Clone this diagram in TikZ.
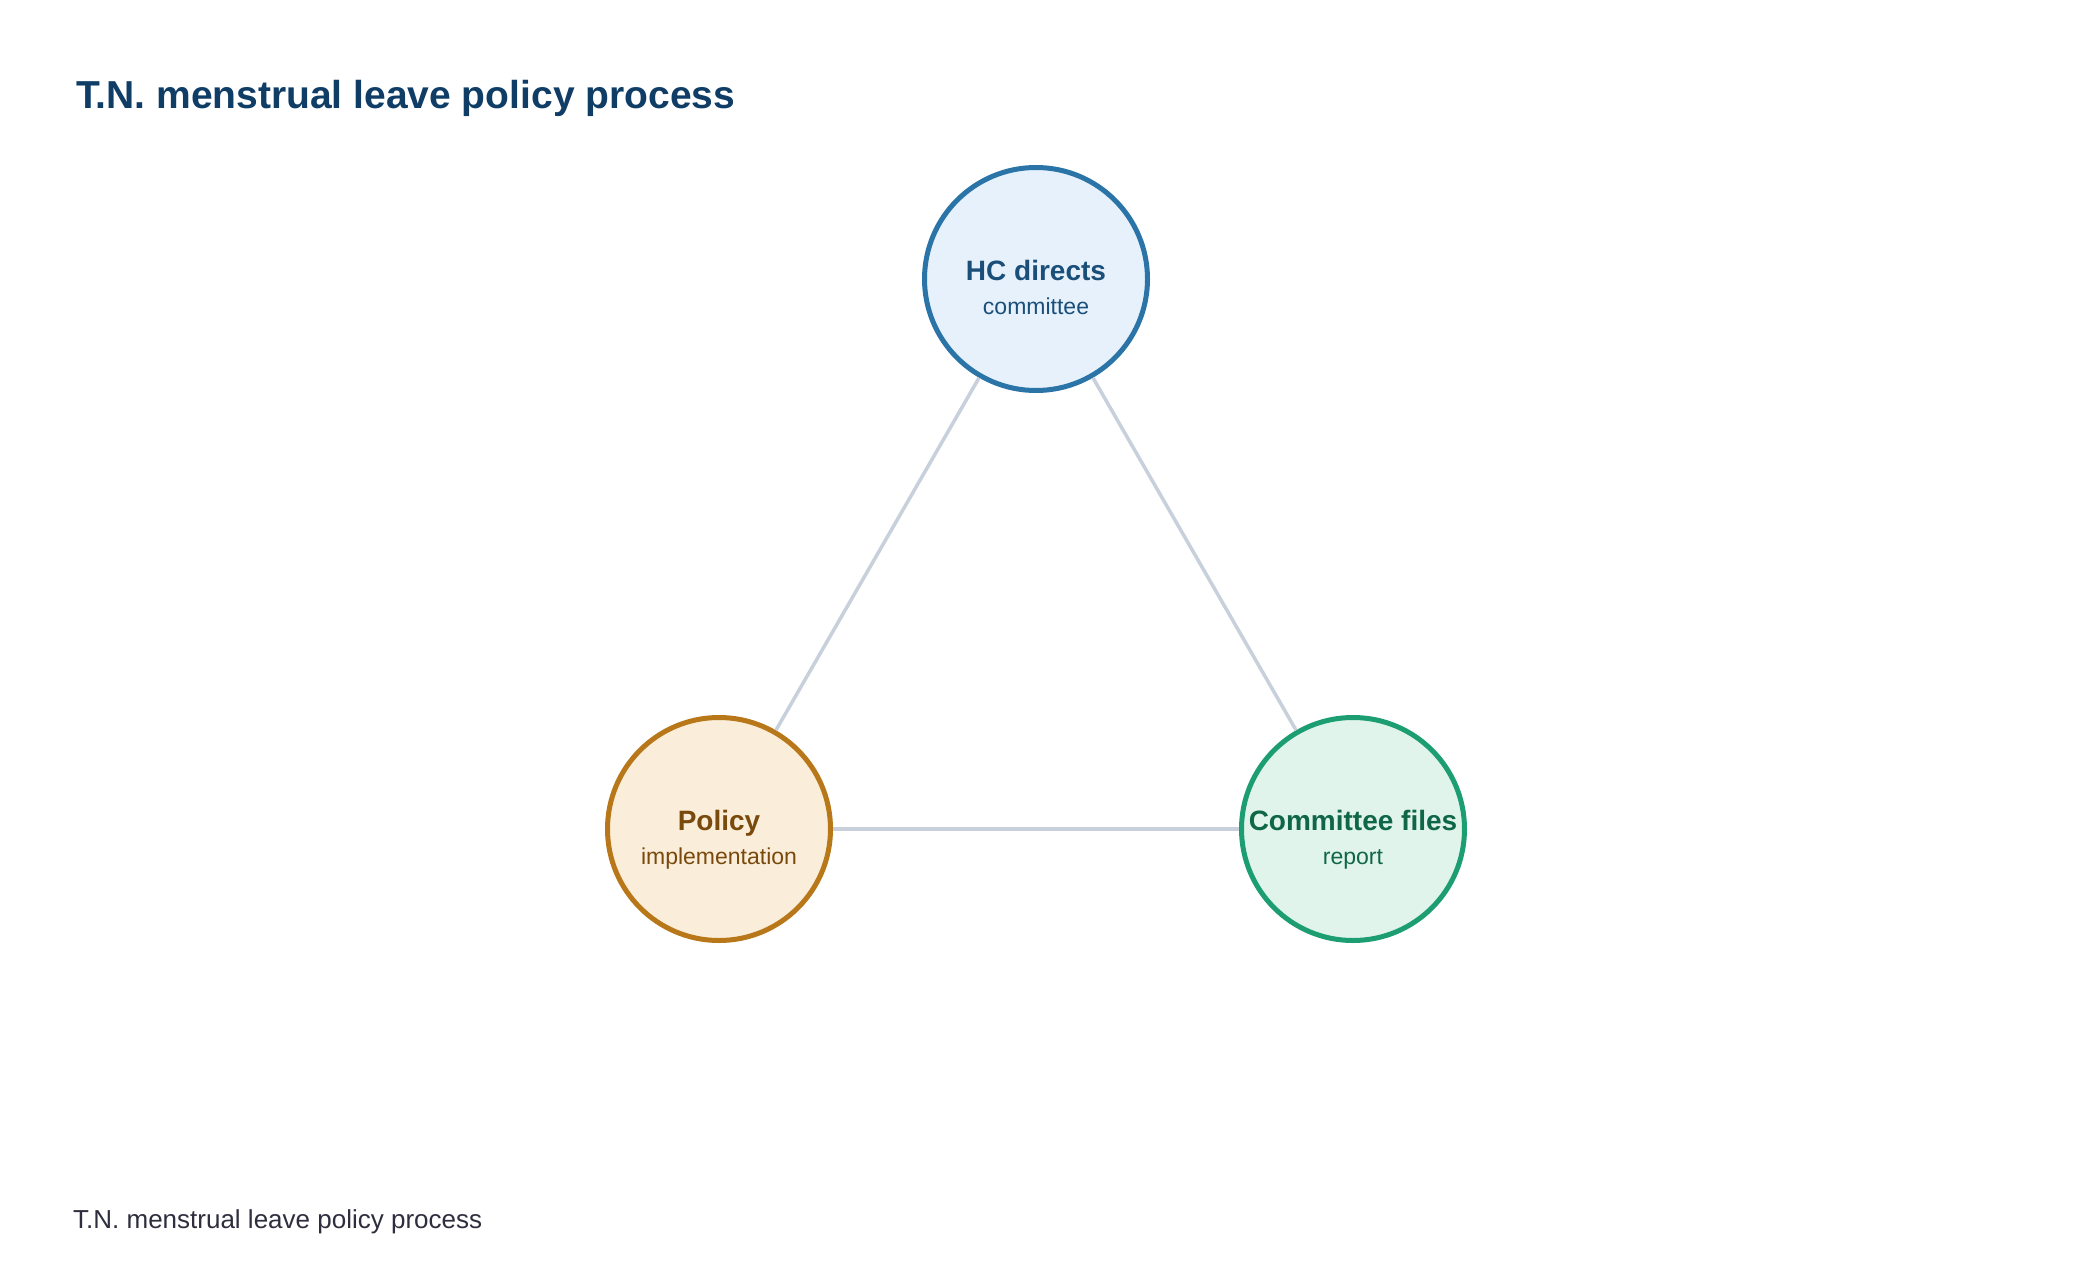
\documentclass[tikz,border=0pt]{standalone}
\usepackage{fontspec}
\setmainfont{Liberation Sans}
\definecolor{titlecol}{HTML}{0F3D66}
\definecolor{footcol}{HTML}{2E2E3E}
\definecolor{edgecol}{HTML}{C8D0DC}
\definecolor{bluefill}{HTML}{E6F1FB}
\definecolor{bluedraw}{HTML}{2A74A8}
\definecolor{bluetext}{HTML}{1A4F7A}
\definecolor{orfill}{HTML}{FAEDDA}
\definecolor{ordraw}{HTML}{B87718}
\definecolor{ortext}{HTML}{7A4A0C}
\definecolor{grfill}{HTML}{E0F4EC}
\definecolor{grdraw}{HTML}{1C9E72}
\definecolor{grtext}{HTML}{0F6648}
\tikzset{
  stage/.style={circle, line width=5pt, minimum size=223pt, inner sep=0pt,
    align=center, text height=70pt, text depth=0pt,
    font=\fontsize{23}{34}\selectfont},
  link/.style={draw=edgecol, line width=3.5pt},
  heading/.style={anchor=base west, inner sep=0pt, text=titlecol,
    font=\fontsize{39}{46}\selectfont\bfseries},
  footnote/.style={anchor=base west, inner sep=0pt, text=footcol,
    font=\fontsize{26}{31}\selectfont}
}
\newcommand{\stagetext}[2]{{\fontsize{28}{34}\selectfont\bfseries #1}\\#2}
\begin{document}
\begin{tikzpicture}[x=1pt, y=-1pt]
  \useasboundingbox[fill=white] (0,0) rectangle (2080,1284);
  \node[heading] (title) at (76,109) {T.N. menstrual leave policy process};
  \node[footnote] (foot) at (73,1228) {T.N. menstrual leave policy process};
  \node[stage, fill=bluefill, draw=bluedraw, text=bluetext] (hc) at (1036,279)
    {\stagetext{HC directs}{committee}};
  \node[stage, fill=orfill, draw=ordraw, text=ortext] (pol) at (719,829)
    {\stagetext{Policy}{implementation}};
  \node[stage, fill=grfill, draw=grdraw, text=grtext] (com) at (1353,829)
    {\stagetext{Committee files}{report}};
  \draw[link] (hc) -- (com);
  \draw[link] (hc) -- (pol);
  \draw[link] (pol) -- (com);
\end{tikzpicture}
\end{document}
